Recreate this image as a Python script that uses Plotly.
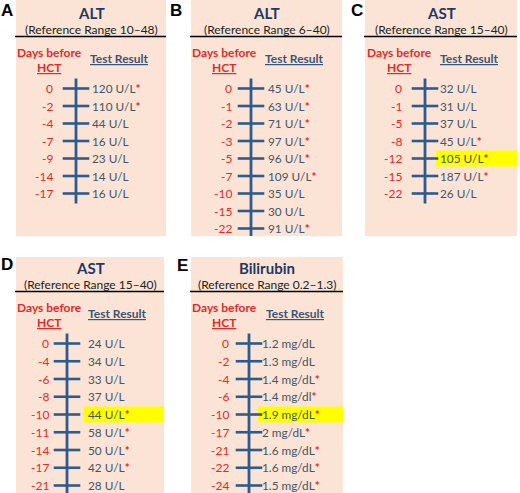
import plotly.graph_objects as go

# ---------------- data ----------------
A_title = "ALT"; A_range = (10, 48)
A_days = [0, -2, -4, -7, -9, -14, -17]
A_vals = [120, 110, 44, 16, 23, 14, 16]
A_units = ["U/L"] * 7

B_title = "ALT"; B_range = (6, 40)
B_days = [0, -1, -2, -3, -5, -7, -10, -15, -22]
B_vals = [45, 63, 71, 97, 96, 109, 35, 30, 91]
B_units = ["U/L"] * 9

C_title = "AST"; C_range = (15, 40)
C_days = [0, -1, -5, -8, -12, -15, -22]
C_vals = [32, 31, 37, 45, 105, 187, 26]
C_units = ["U/L"] * 7
C_highlight = -12

D_title = "AST"; D_range = (15, 40)
D_days = [0, -4, -6, -8, -10, -11, -14, -17, -21]
D_vals = [24, 34, 33, 37, 44, 58, 50, 42, 28]
D_units = ["U/L"] * 9
D_highlight = -10

E_title = "Bilirubin"; E_range = (0.2, 1.3)
E_days = [0, -2, -4, -6, -10, -17, -21, -22, -24]
E_vals = [1.2, 1.3, 1.4, 1.4, 1.9, 2, 1.6, 1.6, 1.5]
E_units = ["mg/dL", "mg/dL", "mg/dL", "mg/dl", "mg/dL", "mg/dL", "mg/dL", "mg/dL", "mg/dL"]
E_highlight = -10

# ---------------- style ----------------
FONT = "Lato"
BG = "#FBE4D5"
NAVY = "#1F3864"
RED = "#E02B2B"
TXT = "#44546A"
LINE = "#2E5A8E"
YEL = "#FFFF00"

panels = [
    dict(letter="A", title=A_title, rng=A_range, days=A_days, vals=A_vals, units=A_units, hl=None,
         lx=7, ly=10, bx=(16, 166), by=(0, 236), oy=0, vx=76, dr=55, rx=89.5, dh=49, tr=119, step=17.5),
    dict(letter="B", title=B_title, rng=B_range, days=B_days, vals=B_vals, units=B_units, hl=None,
         lx=176, ly=10, bx=(191, 342), by=(0, 236), oy=0, vx=251, dr=234, rx=266, dh=224, tr=294, step=17.5),
    dict(letter="C", title=C_title, rng=C_range, days=C_days, vals=C_vals, units=C_units, hl=C_highlight,
         lx=357, ly=10, bx=(365, 517), by=(0, 236), oy=0, vx=425, dr=404, rx=438, dh=399, tr=469, step=17.5),
    dict(letter="D", title=D_title, rng=D_range, days=D_days, vals=D_vals, units=D_units, hl=D_highlight,
         lx=7, ly=264, bx=(16, 164), by=(257, 493), oy=255, vx=67, dr=51, rx=86, dh=49, tr=117, step=17.75),
    dict(letter="E", title=E_title, rng=E_range, days=E_days, vals=E_vals, units=E_units, hl=E_highlight,
         lx=182, ly=265, bx=(191, 343), by=(257, 493), oy=255, vx=249, dr=231, rx=260, dh=224, tr=295, step=17.75),
]

fig = go.Figure()
shapes = []
annos = []


def fmt(v):
    return f"{v:g}"


for p in panels:
    x0, x1 = p["bx"]
    y0, y1 = p["by"]
    oy = p["oy"]
    cx = (x0 + x1) / 2
    shapes.append(dict(type="rect", xref="x", yref="y", x0=x0, x1=x1, y0=y0, y1=y1,
                       fillcolor=BG, line=dict(width=0), layer="below"))
    shapes.append(dict(type="line", xref="x", yref="y", x0=x0 - 1, x1=x1, y0=oy + 36.5, y1=oy + 36.5,
                       line=dict(color="black", width=1.3)))
    annos.append(dict(x=p["lx"], y=p["ly"], text=f"<b>{p['letter']}</b>", showarrow=False,
                      font=dict(family="Liberation Sans", size=17, color="black")))
    annos.append(dict(x=cx, y=oy + 12.5, text=f"<b>{p['title']}</b>", showarrow=False,
                      font=dict(family=FONT, size=15, color=NAVY)))
    lo, hi = p["rng"]
    annos.append(dict(x=cx, y=oy + 29, text=f"(Reference Range {fmt(lo)}\u2013{fmt(hi)})", showarrow=False,
                      font=dict(family=FONT, size=12, color="#222222")))
    annos.append(dict(x=p["dh"], y=oy + 52, text="<b>Days before</b>", showarrow=False,
                      font=dict(family=FONT, size=12, color=RED)))
    annos.append(dict(x=p["dh"], y=oy + 67, text="<b><u>HCT</u></b>", showarrow=False,
                      font=dict(family=FONT, size=12, color=RED)))
    annos.append(dict(x=p["tr"], y=oy + 58, text="<b><u>Test Result</u></b>", showarrow=False,
                      font=dict(family=FONT, size=12, color="#3B5478")))

    n = len(p["days"])
    ys = [oy + 88.5 + i * p["step"] for i in range(n)]
    if p["hl"] is not None:
        i = p["days"].index(p["hl"])
        shapes.append(dict(type="rect", xref="x", yref="y", x0=p["rx"] - 2, x1=x1, y0=ys[i] - 8,
                           y1=ys[i] + 8, fillcolor=YEL, line=dict(width=0), layer="below"))
    fig.add_trace(go.Scatter(x=[p["vx"], p["vx"]], y=[ys[0] - 10, min(ys[-1] + 10, y1)], mode="lines",
                             line=dict(color=LINE, width=2.8), hoverinfo="skip", showlegend=False))
    fig.add_trace(go.Scatter(x=[p["vx"]] * n, y=ys, mode="markers",
                             marker=dict(symbol="line-ew", size=19, line=dict(color=LINE, width=2.6)),
                             hoverinfo="skip", showlegend=False))
    for d, v, u, y in zip(p["days"], p["vals"], p["units"], ys):
        annos.append(dict(x=p["dr"], y=y, text=str(d), showarrow=False, xanchor="right",
                          font=dict(family=FONT, size=12, color=RED)))
        flag = v < lo or v > hi
        t = f"{fmt(v)} {u}" + ("<span style='color:#E8203A'><b>*</b></span>" if flag else "")
        annos.append(dict(x=p["rx"], y=y, text=t, showarrow=False, xanchor="left",
                          font=dict(family=FONT, size=11.8, color=TXT)))

for a in annos:
    a.setdefault("xref", "x")
    a.setdefault("yref", "y")
    a.setdefault("yanchor", "middle")

fig.update_layout(
    width=520, height=493, margin=dict(l=0, r=0, t=0, b=0),
    paper_bgcolor="white", plot_bgcolor="white",
    xaxis=dict(range=[0, 520], visible=False, fixedrange=True),
    yaxis=dict(range=[493, 0], visible=False, fixedrange=True),
    shapes=shapes, annotations=annos, showlegend=False,
)
fig.write_html("out.html", config={"displayModeBar": False},
               post_script="document.body.style.margin='0';")
